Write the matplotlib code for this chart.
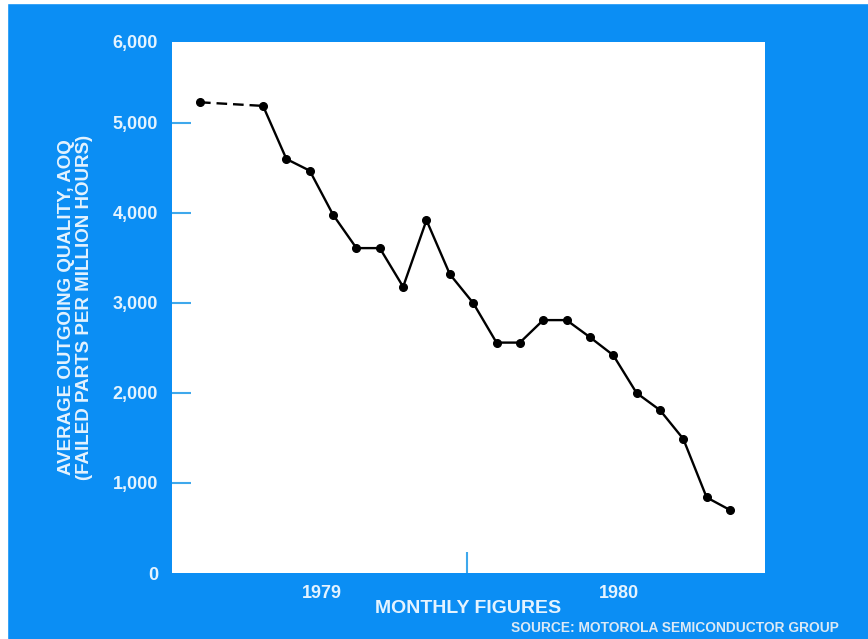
import matplotlib
matplotlib.use("Agg")
import matplotlib.pyplot as plt
from matplotlib.patches import Rectangle

# ---- data ----
months = [-2.7, 0, 1, 2, 3, 4, 5, 6, 7, 8, 9, 10, 11, 12, 13, 14, 15, 16, 17, 18, 19, 20]
aoq = [5230, 5190, 4600, 4470, 3980, 3610, 3610, 3180, 3920, 3320, 3000,
       2560, 2560, 2810, 2810, 2620, 2420, 2000, 1810, 1490, 840, 700]
y_ticks = [0, 1000, 2000, 3000, 4000, 5000, 5900]
y_tick_labels = ["0", "1,000", "2,000", "3,000", "4,000", "5,000", "6,000"]
year_pos = [2.5, 15.25]
year_labels = ["1979", "1980"]
year_split = 8.75

BLUE = "#0b8ef4"
TICKBLUE = "#3ea8ec"
TXT = "#e4f3ff"
FONT = ["Liberation Sans", "DejaVu Sans"]
plt.rcParams["font.family"] = FONT

fig = plt.figure(figsize=(8.68, 6.39), dpi=100, facecolor=BLUE)
W, H = 868, 639
ax = fig.add_axes([172 / W, 1 - 573 / H, (765 - 172) / W, (573 - 42) / H])
ax.set_facecolor("white")
for s in ax.spines.values():
    s.set_visible(False)

# dashed connection to first point, solid for the rest
ax.plot(months[:2], aoq[:2], color="black", lw=1.7, ls=(0, (4.5, 2.5)))
ax.plot(months[1:], aoq[1:], color="black", lw=1.7)
ax.plot(months, aoq, ls="none", marker="o", ms=5.5, color="black")

ax.set_xlim(-3.9, 21.5)
ax.set_ylim(0, 5900)

ax.set_yticks(y_ticks)
ax.set_yticklabels(y_tick_labels, fontsize=13, fontweight="bold", color=TXT)
ax.tick_params(axis="y", direction="in", length=14, width=1.5, color=TICKBLUE, pad=10)
for t, v in zip(ax.yaxis.get_major_ticks(), y_ticks):
    if v in (0, 5900):
        t.tick1line.set_visible(False)

ax.set_xticks(year_pos)
ax.set_xticklabels(year_labels, fontsize=13, fontweight="bold", color=TXT)
ax.tick_params(axis="x", which="major", length=0, pad=9)
ax.set_xticks([year_split], minor=True)
ax.tick_params(axis="x", which="minor", direction="in", length=15, width=1.5, color=TICKBLUE)

ax.set_xlabel("MONTHLY FIGURES", fontsize=14, fontweight="bold", color=TXT, labelpad=-2)
ax.set_ylabel("AVERAGE OUTGOING QUALITY, AOQ\n(FAILED PARTS PER MILLION HOURS)",
              fontsize=13.5, fontweight="bold", color=TXT, linespacing=1.08, labelpad=14)

fig.text(839 / W, 1 - 628 / H, "SOURCE: MOTOROLA SEMICONDUCTOR GROUP",
         ha="right", va="center", fontsize=9.9, fontweight="bold", color="#dbe9f5")

# scan margins
fig.patches.append(Rectangle((0, 0), 7 / W, 1, transform=fig.transFigure, color="white", zorder=-1))
fig.patches.append(Rectangle((0, 1 - 3 / H), 1, 3 / H, transform=fig.transFigure, color="white", zorder=-1))

fig.savefig("out.png", dpi=100, facecolor=BLUE)
